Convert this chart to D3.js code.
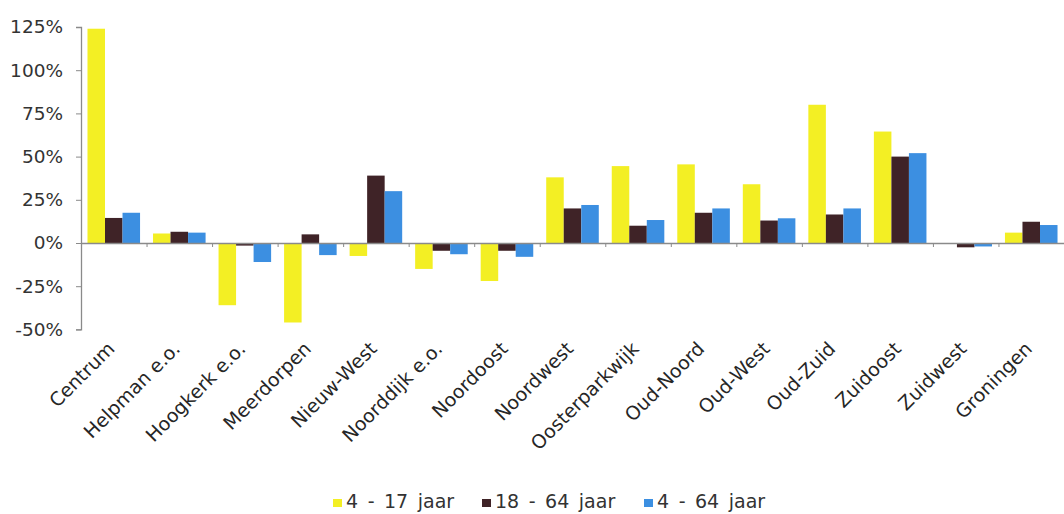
<!DOCTYPE html>
<html>
<head>
<meta charset="utf-8">
<script src="https://cdn.jsdelivr.net/npm/d3@7"></script>
<style>
  html, body { margin: 0; padding: 0; background: #fff; }
  svg { display: block; font-family: "DejaVu Sans", sans-serif; }
</style>
</head>
<body>
<div id="chart"></div>
<script>
// Wijken (categories)
const categories = [
  "Centrum", "Helpman e.o.", "Hoogkerk e.o.", "Meerdorpen", "Nieuw-West",
  "Noorddijk e.o.", "Noordoost", "Noordwest", "Oosterparkwijk", "Oud-Noord",
  "Oud-West", "Oud-Zuid", "Zuidoost", "Zuidwest", "Groningen"
];

// Series names
const seriesNames = ["4 - 17 jaar", "18 - 64 jaar", "4 - 64 jaar"];

// Values in percent
const jaar4_17  = [124, 5.5, -36, -46, -7.5, -15, -22, 38, 44.5, 45.5, 34, 80, 64.5, 0, 6];
const jaar18_64 = [14.5, 6.5, -1.5, 5, 39, -4.5, -4.5, 20, 10, 17.5, 13, 16.5, 50, -2.5, 12.3];
const jaar4_64  = [17.5, 6, -11, -7, 30, -6.5, -8, 22, 13.3, 20, 14.3, 20, 52, -2, 10.4];

const yTicks = [-50, -25, 0, 25, 50, 75, 100, 125];

const colors = ["#f3ef24", "#3f2327", "#3c8fe1"];

const width = 1064;
const height = 514;

const svg = d3.select("#chart")
  .append("svg")
  .attr("width", width)
  .attr("height", height);

const seriesData = [jaar4_17, jaar18_64, jaar4_64];
const rows = categories.map((c, i) => ({
  cat: c,
  vals: seriesNames.map((s, k) => ({ key: s, k, value: seriesData[k][i] }))
}));

// Scales
const x = d3.scaleBand().domain(categories).range([81, 1064]);
const xs = d3.scaleBand().domain(seriesNames).range([0, x.bandwidth()]).paddingOuter(0.37);
const y = d3.scaleLinear().domain([-50, 125]).range([329.4, 27]);

// Bars
svg.append("g")
  .selectAll("g")
  .data(rows)
  .join("g")
  .attr("transform", (d) => `translate(${x(d.cat)},0)`)
  .selectAll("rect")
  .data((d) => d.vals)
  .join("rect")
  .attr("x", (d) => xs(d.key))
  .attr("y", (d) => y(Math.max(0, d.value)))
  .attr("width", xs.bandwidth())
  .attr("height", (d) => Math.abs(y(d.value) - y(0)))
  .attr("fill", (d) => colors[d.k]);

// Y axis
const yAxis = svg.append("g")
  .attr("transform", "translate(81,0)")
  .call(d3.axisLeft(y).tickValues(yTicks).tickFormat((d) => d + "%").tickSize(5).tickPadding(13));
yAxis.select(".domain").attr("stroke", "#8a8a8a").attr("stroke-width", 1.3);
yAxis.selectAll(".tick line").attr("stroke", "#8a8a8a");
yAxis.selectAll("text")
  .attr("fill", "#333")
  .style("font-size", "18.5px")
  .style("font-family", "'DejaVu Sans', sans-serif");

// Zero line with ticks between groups
const zeroAxis = svg.append("g")
  .attr("transform", `translate(0,${y(0)})`)
  .call(
    d3.axisBottom(d3.scaleLinear().domain([0, categories.length]).range(x.range()))
      .ticks(categories.length)
      .tickFormat("")
      .tickSize(4)
      .tickSizeOuter(0)
  );
zeroAxis.select(".domain").attr("stroke", "#8a8a8a").attr("stroke-width", 1.3);
zeroAxis.selectAll(".tick line").attr("stroke", "#8a8a8a");

// Category labels, rotated
svg.append("g")
  .selectAll("text")
  .data(categories)
  .join("text")
  .attr("transform", (d) => `translate(${x(d) + x.bandwidth() / 2 + 2},${350}) rotate(-45)`)
  .attr("text-anchor", "end")
  .attr("fill", "#262626")
  .style("font-size", "19px")
  .text((d) => d);

// Legend
const legendX = [333, 482, 644];
const legend = svg.append("g")
  .selectAll("g")
  .data(seriesNames)
  .join("g")
  .attr("transform", (d, i) => `translate(${legendX[i]},0)`);
legend.append("rect")
  .attr("x", 0)
  .attr("y", 499)
  .attr("width", 9)
  .attr("height", 8)
  .attr("fill", (d, i) => colors[i]);
legend.append("text")
  .attr("x", 13)
  .attr("y", 508)
  .attr("fill", "#333")
  .style("font-size", "19px")
  .style("word-spacing", "3.5px")
  .text((d) => d);
</script>
</body>
</html>
